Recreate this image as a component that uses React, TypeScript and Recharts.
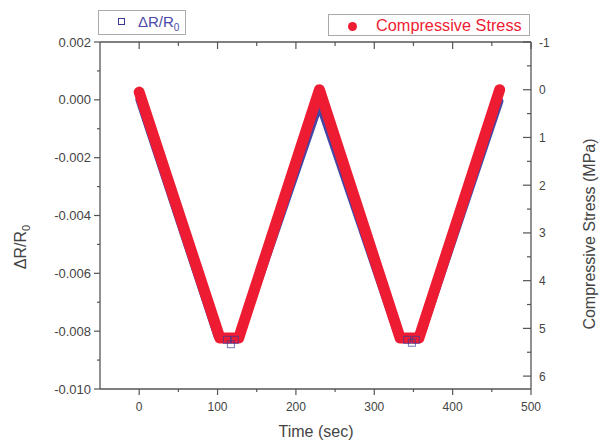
import React from "react";
import { ComposedChart, Line, Scatter, XAxis, YAxis } from "recharts";

// Compressive stress (MPa) vs time (sec) — main vertices of the loading cycle
const stressTime = [0, 103, 127, 230, 333, 357, 460];
const stressValues = [0.05, 5.2, 5.2, 0.0, 5.2, 5.2, 0.0];

// ΔR/R0 vs time — main vertices
const drTime = [0, 100, 128, 230, 331, 359, 460];
const drValues = [0.0, -0.0082, -0.0082, -0.00015, -0.0082, -0.0082, -0.00005];

// ΔR/R0 scattered squares visible outside the red band
const drOutTime = [112, 117, 122, 342, 348, 353];
const drOutValues = [-0.0083, -0.00845, -0.0083, -0.0083, -0.0084, -0.0083];

// Axis ticks
const xTicks = [0, 50, 100, 150, 200, 250, 300, 350, 400, 450, 500];
const leftTicks = [-0.01, -0.009, -0.008, -0.007, -0.006, -0.005, -0.004, -0.003, -0.002, -0.001, 0, 0.001, 0.002];
const rightTicks = [-1, -0.5, 0, 0.5, 1, 1.5, 2, 2.5, 3, 3.5, 4, 4.5, 5, 5.5, 6];

const stressData = stressTime.map((t, i) => ({ t, s: stressValues[i] }));
const drData = drTime.map((t, i) => ({ t, r: drValues[i] }));
const drOutData = drOutTime.map((t, i) => ({ t, r: drOutValues[i] }));

const AXIS = "#555";
const TXT = "#444";
const RED = "#ee1c33";
const BLUE = "#3a3a96";
const FONT = "'Liberation Sans', Arial, sans-serif";

const BottomTick = (props: any) => {
  const { x, y, payload } = props;
  const v = payload.value;
  const major = Math.round(v) % 100 === 0;
  return (
    <g>
      <line x1={x} y1={y} x2={x} y2={y + (major ? 6 : 3)} stroke={AXIS} strokeWidth={1.2} />
      {major && (
        <text x={x} y={y + 22} textAnchor="middle" fontSize={12} fill={TXT} fontFamily={FONT}>
          {v}
        </text>
      )}
    </g>
  );
};

const TopTick = (props: any) => {
  const { x, y, payload } = props;
  const v = payload.value;
  const major = Math.round(v) % 100 === 0;
  return <line x1={x} y1={y} x2={x} y2={y + (major ? 7 : 4)} stroke={AXIS} strokeWidth={1.2} />;
};

const LeftTick = (props: any) => {
  const { x, y, payload } = props;
  const v = payload.value;
  const k = Math.round(v * 1000);
  const major = k % 2 === 0;
  return (
    <g>
      <line x1={x} y1={y} x2={x - (major ? 6 : 3)} y2={y} stroke={AXIS} strokeWidth={1.2} />
      {major && (
        <text x={x - 9} y={y + 4.5} textAnchor="end" fontSize={13} fill={TXT} fontFamily={FONT}>
          {v.toFixed(3)}
        </text>
      )}
    </g>
  );
};

const RightTick = (props: any) => {
  const { x, y, payload } = props;
  const v = payload.value;
  const major = Number.isInteger(v);
  return (
    <g>
      <line x1={x} y1={y} x2={x - (major ? 8 : 4)} y2={y} stroke={AXIS} strokeWidth={1.2} />
      {major && (
        <text x={x + 8} y={y + 4.5} textAnchor="start" fontSize={12} fill={TXT} fontFamily={FONT}>
          {v}
        </text>
      )}
    </g>
  );
};

const OpenSquare = (props: any) => {
  const { cx, cy } = props;
  return <rect x={cx - 3.5} y={cy - 3.5} width={7} height={7} fill="none" stroke={BLUE} strokeWidth={1} opacity={0.7} />;
};

export default function App() {
  return (
    <div style={{ position: "absolute", left: 0, top: 0, width: 605, height: 443, background: "#fff", fontFamily: FONT }}>
      <ComposedChart width={605} height={443} margin={{ top: 32, right: 14, bottom: 24, left: 40 }}>
        <XAxis
          xAxisId="bottom"
          dataKey="t"
          type="number"
          domain={[-50, 500]}
          allowDataOverflow
          ticks={xTicks}
          interval={0}
          orientation="bottom"
          height={30}
          tickSize={0}
          tickMargin={0}
          tickLine={false}
          axisLine={{ stroke: AXIS, strokeWidth: 1.3 }}
          tick={<BottomTick />}
        />
        <XAxis
          xAxisId="top"
          dataKey="t"
          type="number"
          domain={[-50, 500]}
          allowDataOverflow
          ticks={xTicks}
          interval={0}
          orientation="top"
          height={10}
          tickSize={0}
          tickMargin={0}
          tickLine={false}
          axisLine={{ stroke: AXIS, strokeWidth: 1.3 }}
          tick={<TopTick />}
        />
        <YAxis
          yAxisId="left"
          type="number"
          domain={[-0.01, 0.002]}
          allowDataOverflow
          ticks={leftTicks}
          interval={0}
          orientation="left"
          width={60}
          tickSize={0}
          tickMargin={0}
          tickLine={false}
          axisLine={{ stroke: AXIS, strokeWidth: 1.3 }}
          tick={<LeftTick />}
        />
        <YAxis
          yAxisId="right"
          type="number"
          domain={[-1, 6.27]}
          allowDataOverflow
          reversed
          ticks={rightTicks}
          interval={0}
          orientation="right"
          width={60}
          tickSize={0}
          tickMargin={0}
          tickLine={false}
          axisLine={{ stroke: AXIS, strokeWidth: 1.3 }}
          tick={<RightTick />}
        />
        <Line
          data={drData}
          xAxisId="bottom"
          yAxisId="left"
          dataKey="r"
          type="linear"
          stroke="#4646a4"
          strokeWidth={7.5}
          strokeLinejoin="round"
          strokeLinecap="round"
          dot={false}
          isAnimationActive={false}
        />
        <Scatter
          data={drOutData}
          xAxisId="bottom"
          yAxisId="left"
          dataKey="r"
          shape={<OpenSquare />}
          isAnimationActive={false}
        />
        <Line
          data={stressData}
          xAxisId="bottom"
          yAxisId="right"
          dataKey="s"
          type="linear"
          stroke={RED}
          strokeWidth={11}
          strokeLinejoin="round"
          strokeLinecap="round"
          dot={false}
          isAnimationActive={false}
        />
      </ComposedChart>

      {/* Left legend */}
      <div
        style={{
          position: "absolute",
          left: 98,
          top: 10,
          width: 88,
          height: 25,
          border: "1px solid #aaa",
          boxSizing: "border-box",
          background: "#fff",
        }}
      >
        <div
          style={{
            position: "absolute",
            left: 19,
            top: 7,
            width: 7,
            height: 7,
            border: `1px solid ${BLUE}`,
            boxSizing: "border-box",
          }}
        />
        <div
          style={{
            position: "absolute",
            left: 39,
            top: 2,
            fontSize: 15,
            color: "#4a4aa5",
            whiteSpace: "nowrap",
            lineHeight: "17px",
          }}
        >
          ΔR/R<sub style={{ fontSize: 10, verticalAlign: "-4px" }}>0</sub>
        </div>
      </div>

      {/* Right legend */}
      <div
        style={{
          position: "absolute",
          left: 328,
          top: 14,
          width: 202,
          height: 22,
          border: "1px solid #aaa",
          boxSizing: "border-box",
          background: "#fff",
        }}
      >
        <div
          style={{
            position: "absolute",
            left: 19,
            top: 7,
            width: 9,
            height: 9,
            borderRadius: "50%",
            background: RED,
          }}
        />
        <div
          style={{
            position: "absolute",
            left: 47,
            top: 1,
            fontSize: 16.3,
            color: RED,
            whiteSpace: "nowrap",
            lineHeight: "18px",
          }}
        >
          Compressive Stress
        </div>
      </div>

      {/* X axis title */}
      <div
        style={{
          position: "absolute",
          left: 316,
          top: 432,
          transform: "translate(-50%, -50%)",
          fontSize: 16,
          color: TXT,
          whiteSpace: "nowrap",
        }}
      >
        Time (sec)
      </div>

      {/* Left axis title */}
      <div
        style={{
          position: "absolute",
          left: 22,
          top: 247,
          transform: "translate(-50%, -50%) rotate(-90deg)",
          fontSize: 16,
          color: TXT,
          whiteSpace: "nowrap",
        }}
      >
        ΔR/R<sub style={{ fontSize: 11, verticalAlign: "-4px" }}>0</sub>
      </div>

      {/* Right axis title */}
      <div
        style={{
          position: "absolute",
          left: 590,
          top: 234,
          transform: "translate(-50%, -50%) rotate(-90deg)",
          fontSize: 16,
          color: TXT,
          whiteSpace: "nowrap",
        }}
      >
        Compressive Stress (MPa)
      </div>
    </div>
  );
}
